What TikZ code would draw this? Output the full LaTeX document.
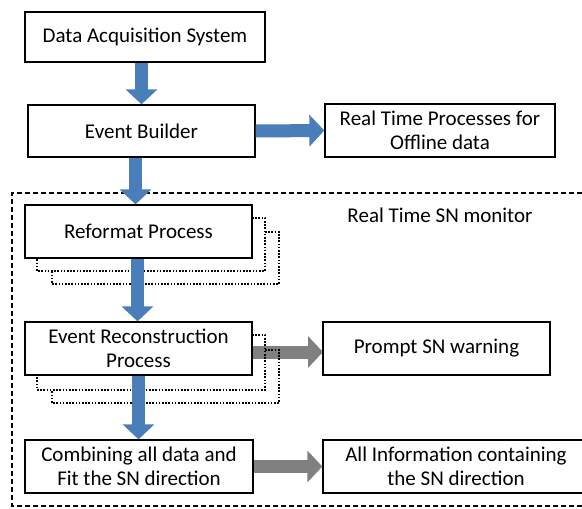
\documentclass[tikz,border=0pt]{standalone}
\usepackage{fontspec}
\setmainfont{Carlito}
\usetikzlibrary{arrows.meta,calc}
\definecolor{arrowblue}{HTML}{4A7EBB}
\definecolor{arrowgrey}{HTML}{808080}
\tikzset{
  box/.style={draw=black, line width=1.3pt, fill=white, inner sep=0pt, align=center,
    font=\fontsize{21}{24}\selectfont},
  bluearrow/.style={draw=arrowblue, line width=13pt,
    -{Triangle[width=31pt,length=15pt]}, arrowblue},
  greyarrow/.style={draw=arrowgrey, line width=13pt,
    -{Triangle[width=31pt,length=15pt]}, arrowgrey},
  shadowline/.style={draw=black, line width=1.6pt, dash pattern=on 1.6pt off 1.6pt},
  frame/.style={draw=black, line width=1.3pt, dash pattern=on 5pt off 3pt}
}
\begin{document}
\begin{tikzpicture}[x=1pt,y=-1pt]
\useasboundingbox (0,0) rectangle (582,509);

% frame of the real time SN monitor
\draw[frame] (590,193) -- (12,193) -- (12,506) -- (590,506);
\node[font=\fontsize{21}{24}\selectfont, anchor=center] (monitor) at (440,215) {Real Time SN monitor};

% boxes
\node[box, minimum width=240pt, minimum height=50pt] (daq) at (145,37) {Data Acquisition System};
\node[box, minimum width=227pt, minimum height=52pt] (eb) at (141.5,131) {Event Builder};
\node[box, minimum width=230pt, minimum height=53pt] (offline) at (440,130.5) {Real Time Processes for\\Offline data};

% shadow outlines (drawn before the boxes)
\draw[shadowline] (252,218) -- (265,218) -- (265,271) -- (37,271) -- (37,258);
\draw[shadowline] (265,232) -- (279,232) -- (279,284) -- (52,284) -- (52,271);
\node[box, minimum width=227pt, minimum height=53pt] (reformat) at (138.5,231.5) {Reformat Process};

\draw[greyarrow] (252,352) -- (323,352);
\draw[shadowline] (252,335) -- (265,335) -- (265,390) -- (37,390) -- (37,375);
\draw[shadowline] (265,350) -- (279,350) -- (279,403) -- (52,403) -- (52,390);
\node[box, minimum width=227pt, minimum height=53pt] (erp) at (138.5,348.5) {Event Reconstruction\\Process};
\node[box, minimum width=227pt, minimum height=53pt] (prompt) at (436.5,348.5) {Prompt SN warning};

\node[box, minimum width=228pt, minimum height=53pt] (comb) at (139,466.5) {Combining all data and\\Fit the SN direction};
\node[box, minimum width=266pt, minimum height=53pt] (allinfo) at (456,466.5) {All Information containing\\the SN direction};

% connectors
\draw[bluearrow] (daq.south -| eb.north) -- (eb.north);
\draw[bluearrow] (eb.east) -- (offline.west);
\draw[bluearrow] ($(eb.south)+(-6,0)$) -- ($(reformat.north)+(-3,0)$);
\draw[bluearrow] ($(reformat.south)+(-1,0)$) -- ($(erp.north)+(-1,0)$);
\draw[bluearrow] (erp.south) -- (comb.north -| erp.south);
\draw[greyarrow] (comb.east) -- (allinfo.west);
\end{tikzpicture}
\end{document}
